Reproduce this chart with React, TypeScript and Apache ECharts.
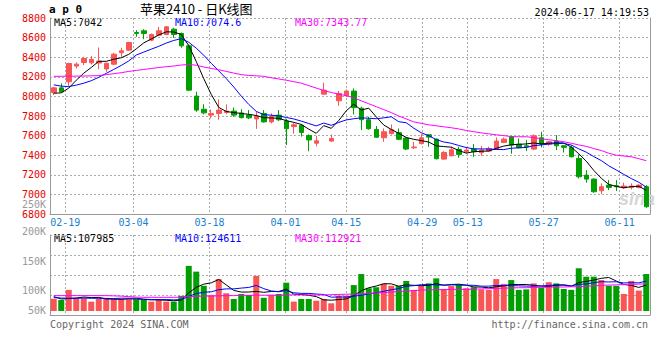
import React, { useEffect, useRef } from 'react';
import * as echarts from 'echarts';

const dates = [
  '2024-02-07','2024-02-08','2024-02-19','2024-02-20','2024-02-21','2024-02-22','2024-02-23','2024-02-26','2024-02-27','2024-02-28','2024-02-29',
  '2024-03-04','2024-03-05','2024-03-06','2024-03-07','2024-03-08','2024-03-11','2024-03-12','2024-03-13','2024-03-14','2024-03-15',
  '2024-03-18','2024-03-19','2024-03-20','2024-03-21','2024-03-22','2024-03-25','2024-03-26','2024-03-27','2024-03-28','2024-03-29',
  '2024-04-01','2024-04-02','2024-04-03','2024-04-08','2024-04-09','2024-04-10','2024-04-11','2024-04-12',
  '2024-04-15','2024-04-16','2024-04-17','2024-04-18','2024-04-19','2024-04-22','2024-04-23','2024-04-24','2024-04-25','2024-04-26',
  '2024-04-29','2024-04-30','2024-05-07','2024-05-08','2024-05-09','2024-05-10',
  '2024-05-13','2024-05-14','2024-05-15','2024-05-16','2024-05-17','2024-05-20','2024-05-21','2024-05-22','2024-05-23','2024-05-24',
  '2024-05-27','2024-05-28','2024-05-29','2024-05-30','2024-05-31','2024-06-03','2024-06-04','2024-06-05','2024-06-06','2024-06-07',
  '2024-06-11','2024-06-12','2024-06-13','2024-06-14','2024-06-17'
];

const tickDates = ['02-19', '03-04', '03-18', '04-01', '04-15', '04-29', '05-13', '05-27', '06-11'];

const opens = [
  8040, 8087, 8149, 8309, 8346, 8343, 8340, 8280, 8329, 8445,
  8472, 8652, 8669, 8574, 8625, 8632, 8686, 8642, 8516, 8003,
  7869, 7809, 7826, 7836, 7850, 7831, 7809, 7770, 7826, 7740,
  7809, 7748, 7692, 7705, 7600, 7522, 8023, 7544, 7955, 8006,
  8054, 7880, 7762, 7663, 7578, 7620, 7630, 7575, 7476, 7518,
  7608, 7563, 7360, 7394, 7459, 7435, 7462, 7425, 7442, 7459,
  7530, 7588, 7513, 7496, 7462, 7578, 7513, 7544, 7496, 7479,
  7367, 7197, 7156, 7037, 7095, 7088, 7068, 7071, 7071, 7078
];
const closes = [
  8087, 8047, 8336, 8329, 8387, 8377, 8360, 8338, 8431, 8465,
  8550, 8642, 8642, 8632, 8669, 8710, 8632, 8516, 8064, 7860,
  7832, 7826, 7860, 7850, 7809, 7783, 7781, 7800, 7740, 7795,
  7762, 7670, 7710, 7632, 7556, 7547, 8064, 7571, 8030, 8054,
  7885, 7762, 7670, 7583, 7639, 7660, 7562, 7463, 7484, 7578,
  7585, 7364, 7428, 7455, 7408, 7452, 7435, 7452, 7469, 7544,
  7564, 7503, 7476, 7486, 7598, 7513, 7537, 7496, 7480, 7384,
  7180, 7156, 7027, 7078, 7071, 7078, 7085, 7085, 7095, 6874
];
const lows = [
  8013, 8040, 8108, 8285, 8319, 8326, 8278, 8251, 8319, 8404,
  8465, 8608, 8584, 8564, 8618, 8625, 8598, 8496, 8054, 7843,
  7818, 7775, 7762, 7819, 7792, 7775, 7768, 7668, 7732, 7724,
  7748, 7505, 7620, 7590, 7440, 7490, 8018, 7537, 7904, 7999,
  7816, 7656, 7660, 7578, 7537, 7612, 7554, 7452, 7463, 7510,
  7486, 7357, 7355, 7390, 7374, 7420, 7384, 7394, 7432, 7455,
  7523, 7415, 7469, 7442, 7452, 7479, 7496, 7452, 7428, 7377,
  7163, 7119, 7017, 7003, 7044, 7034, 7054, 7051, 7061, 6864
];
const highs = [
  8098, 8132, 8343, 8346, 8404, 8411, 8499, 8345, 8445, 8496,
  8557, 8676, 8686, 8642, 8710, 8717, 8700, 8652, 8530, 8047,
  7920, 7867, 7969, 7918, 7887, 7870, 7860, 7840, 7860, 7826,
  7860, 7770, 7730, 7720, 7612, 7598, 8139, 7612, 8057, 8071,
  8081, 7894, 7792, 7697, 7673, 7714, 7673, 7588, 7537, 7615,
  7615, 7571, 7442, 7486, 7486, 7486, 7513, 7493, 7486, 7581,
  7581, 7598, 7571, 7554, 7612, 7639, 7544, 7605, 7503, 7503,
  7408, 7248, 7163, 7112, 7146, 7146, 7119, 7112, 7102, 7095
];

const ma5 = [
  8032, 8036, 8085, 8165, 8237, 8295, 8358, 8358, 8379, 8394,
  8429, 8485, 8546, 8586, 8627, 8659, 8657, 8632, 8518, 8356,
  8181, 8020, 7888, 7846, 7835, 7826, 7817, 7805, 7783, 7780,
  7776, 7753, 7735, 7714, 7666, 7623, 7702, 7674, 7754, 7853,
  7921, 7860, 7880, 7791, 7708, 7663, 7623, 7581, 7562, 7549,
  7534, 7495, 7488, 7482, 7448, 7421, 7436, 7440, 7443, 7470,
  7493, 7506, 7511, 7515, 7525, 7515, 7522, 7526, 7525, 7482,
  7415, 7339, 7245, 7165, 7102, 7082, 7068, 7079, 7083, 7042
];
const ma10 = [
  8118, 8105, 8100, 8115, 8135, 8160, 8195, 8235, 8275, 8316,
  8362, 8422, 8452, 8482, 8511, 8544, 8571, 8589, 8552, 8492,
  8420, 8338, 8260, 8182, 8096, 8003, 7918, 7847, 7814, 7808,
  7801, 7785, 7770, 7748, 7723, 7699, 7728, 7705, 7734, 7760,
  7772, 7781, 7777, 7772, 7781, 7792, 7742, 7731, 7676, 7629,
  7599, 7559, 7535, 7522, 7499, 7478, 7465, 7464, 7463, 7459,
  7457, 7471, 7476, 7479, 7498, 7504, 7514, 7519, 7520, 7504,
  7465, 7431, 7386, 7345, 7292, 7249, 7204, 7162, 7124, 7074.6
];
const ma30 = [
  8205, 8205, 8206, 8207, 8208, 8210, 8212, 8222, 8232, 8242,
  8255, 8265, 8275, 8285, 8295, 8303, 8310, 8320, 8326, 8318,
  8300, 8285, 8272, 8255, 8238, 8222, 8214, 8210, 8205, 8190,
  8178, 8165, 8150, 8135, 8110, 8085, 8060, 8040, 8022, 8008,
  7985, 7955, 7925, 7895, 7865, 7835, 7800, 7770, 7740, 7725,
  7710, 7700, 7690, 7680, 7668, 7652, 7640, 7628, 7618, 7608,
  7600, 7590, 7588, 7588, 7580, 7568, 7558, 7548, 7537, 7522,
  7505, 7490, 7468, 7448, 7420, 7400, 7392, 7384, 7365, 7343.77
];

const volumes = [
  51000, 46000, 88000, 53000, 53000, 39000, 51000, 55000, 49000, 49000,
  49000, 49000, 46000, 39000, 50000, 39000, 39000, 63000, 188000, 164000,
  105000, 67000, 133000, 74000, 50000, 71000, 67000, 146000, 55000, 67000,
  71000, 118000, 39000, 50000, 50000, 43000, 50000, 32000, 64000, 64000,
  108000, 154000, 95000, 99000, 113000, 105000, 104000, 125000, 88000, 105000,
  115000, 136000, 92000, 104000, 111000, 95000, 99000, 90000, 88000, 133000,
  113000, 129000, 88000, 90000, 115000, 97000, 120000, 115000, 92000, 88000,
  178000, 143000, 143000, 129000, 105000, 105000, 71000, 125000, 85000, 154000
];
const volMa5 = [
  60000, 50000, 52000, 54000, 58200, 55800, 56800, 50200, 49400, 48600,
  50600, 50200, 48400, 46400, 46600, 44600, 42600, 46000, 75800, 98600,
  111800, 117400, 131400, 108600, 85800, 79000, 79000, 81600, 77800, 81200,
  81200, 91400, 70000, 69000, 65600, 60000, 46400, 45000, 47800, 50600,
  63600, 84400, 97000, 104000, 113800, 113200, 103200, 109200, 107000, 105400,
  107400, 113800, 107200, 110400, 111600, 107600, 100200, 99800, 96600, 101000,
  104600, 110600, 110200, 110600, 107000, 103800, 102000, 107400, 107800, 102400,
  118600, 123200, 128800, 136200, 139600, 125000, 110600, 107000, 98200, 107985
];
const volMa10 = [
  56000, 54000, 53000, 53000, 54000, 53000, 53000, 52000, 52000, 53400,
  53200, 53500, 49300, 47900, 47600, 47600, 46400, 47200, 61100, 72600,
  78200, 80000, 88700, 92200, 92200, 95400, 98200, 106500, 93200, 83500,
  80100, 85200, 75800, 73400, 73400, 70600, 68900, 57500, 58400, 58100,
  61800, 65400, 71000, 75900, 82200, 88400, 93800, 103100, 105500, 109600,
  110300, 108500, 108200, 108700, 108500, 107500, 107000, 103500, 103500, 106300,
  106100, 105400, 105000, 103600, 104000, 104200, 106300, 108800, 109200, 104700,
  111200, 112600, 118100, 122000, 121000, 121800, 116900, 117900, 117200, 124611
];
const volMa30 = [
  64000, 64000, 64000, 64000, 64000, 64000, 64000, 64000, 63000, 62000,
  60000, 58000, 57000, 57000, 57000, 57000, 57000, 58000, 60000, 61000,
  62000, 62000, 63000, 64000, 64000, 65000, 65000, 66000, 66000, 66000,
  66000, 67000, 67000, 67000, 67000, 67000, 67000, 68000, 69000, 70000,
  70000, 71000, 73000, 75000, 77000, 79000, 81000, 83000, 85000, 87000,
  88000, 89000, 89000, 90000, 90000, 90000, 91000, 92000, 93000, 94000,
  95000, 96000, 97000, 97000, 98000, 99000, 99000, 100000, 100000, 101000,
  101000, 103000, 105000, 107000, 108000, 109000, 110000, 111000, 112000, 112921
];

const volTickLabels = ['250K', '200K', '150K', '100K', '50K'];
const priceLegend = ['MA5:7042', 'MA10:7074.6', 'MA30:7343.77'];
const volLegend = ['MA5:107985', 'MA10:124611', 'MA30:112921'];
const titleText = '苹果2410 - 日K线图';
const codeText = 'a p 0';
const timeText = '2024-06-17 14:19:53';
const copyrightText = 'Copyright 2024 SINA.COM';
const siteText = 'http://finance.sina.com.cn';

export default function App() {
  const ref = useRef<HTMLDivElement>(null);

  useEffect(() => {
    if (!ref.current) return;
    const chart = echarts.init(ref.current, null, { renderer: 'svg' });
    const RED = '#fa5555';
    const GREEN = '#009e00';
    const MONO = 'DejaVu Sans Mono';
    const GRID_COLOR = '#aaaaaa';
    const BORDER = '#999999';
    const maColors = ['#000000', '#0000ff', '#ff00ff'];
    const isTick = (_i: number, v: string) => tickDates.includes(String(v).slice(5));
    const dotted = { color: GRID_COLOR, width: 1, type: [2, 2] as any };

    const candles = dates.map((_, i) => [opens[i], closes[i], lows[i], highs[i]]);
    const volData = volumes.map((v, i) => ({
      value: v,
      itemStyle: { color: closes[i] >= opens[i] ? RED : GREEN },
    }));

    const txt = (text: string, x: number, y: number, fill: string, extra: any = {}) => ({
      type: 'text',
      x,
      y,
      silent: true,
      style: {
        text,
        fill,
        fontFamily: MONO,
        fontSize: 10,
        textVerticalAlign: 'middle',
        verticalAlign: 'middle',
        ...extra,
      },
    });

    const legendX = [54, 175, 295];
    const volLabelY = [204, 231, 261, 290, 310];

    const lineSeries = (name: string, data: number[], color: string, xi: number, yi: number) => ({
      name,
      type: 'line',
      data,
      xAxisIndex: xi,
      yAxisIndex: yi,
      showSymbol: false,
      symbol: 'none',
      silent: true,
      lineStyle: { color, width: 1 },
      z: 5,
    });

    const hiddenCat = (gridIndex: number) => ({
      type: 'category',
      gridIndex,
      position: 'bottom',
      data: dates,
      boundaryGap: true,
      axisLine: { show: true, onZero: false, lineStyle: { color: BORDER, width: 1 } },
      axisTick: { show: false },
      axisLabel: { show: false },
      splitLine: { show: false },
    });

    const option: any = {
      animation: false,
      backgroundColor: '#ffffff',
      title: {
        text: titleText,
        left: 140,
        top: 2,
        padding: 0,
        textStyle: { fontFamily: 'Noto Sans CJK SC', fontSize: 13, fontWeight: 'normal', color: '#000' },
      },
      grid: [
        { left: 50, top: 18, width: 600, height: 196, show: false },
        { left: 50, top: 235, width: 600, height: 80, show: false },
      ],
      xAxis: [
        hiddenCat(0),
        {
          type: 'category',
          gridIndex: 0,
          position: 'bottom',
          data: dates,
          boundaryGap: false,
          axisLine: { show: false, onZero: false },
          axisTick: { show: false, interval: isTick },
          axisLabel: {
            interval: isTick,
            formatter: (v: string) => v.slice(5),
            color: '#1b7fd1',
            fontFamily: MONO,
            fontSize: 10,
            margin: 3,
          },
          splitLine: { show: true, interval: isTick, lineStyle: dotted },
        },
        hiddenCat(1),
        {
          type: 'category',
          gridIndex: 1,
          position: 'bottom',
          data: dates,
          boundaryGap: false,
          axisLine: { show: false, onZero: false },
          axisTick: { show: false, interval: isTick },
          axisLabel: { show: false, interval: isTick },
          splitLine: { show: true, interval: isTick, lineStyle: dotted },
        },
      ],
      yAxis: [
        {
          type: 'value',
          gridIndex: 0,
          position: 'left',
          min: 6800,
          max: 8800,
          interval: 200,
          axisLine: { show: true, onZero: false, lineStyle: { color: BORDER, width: 1 } },
          axisTick: { show: false },
          axisLabel: {
            color: '#e60000',
            fontFamily: MONO,
            fontSize: 10,
            margin: 4,
            lineHeight: 10,
            padding: [0, 0, 3, 0],
            formatter: (v: number) => String(v),
          },
          splitLine: { show: true, lineStyle: dotted },
        },
        {
          type: 'value',
          gridIndex: 0,
          position: 'right',
          min: 0,
          max: 1,
          axisLine: { show: true, onZero: false, lineStyle: { color: BORDER, width: 1 } },
          axisTick: { show: false },
          axisLabel: { show: false },
          splitLine: { show: false },
        },
        {
          type: 'value',
          gridIndex: 1,
          position: 'left',
          min: -16667,
          max: 316667,
          axisLine: { show: true, onZero: false, lineStyle: { color: BORDER, width: 1 } },
          axisTick: { show: false },
          axisLabel: { show: false },
          splitLine: { show: false },
        },
        {
          type: 'value',
          gridIndex: 1,
          position: 'left',
          min: 0,
          max: 4,
          interval: 1,
          axisLine: { show: false },
          axisTick: { show: false },
          axisLabel: { show: false },
          splitLine: { show: true, lineStyle: dotted },
        },
        {
          type: 'value',
          gridIndex: 1,
          position: 'right',
          min: 0,
          max: 1,
          axisLine: { show: true, onZero: false, lineStyle: { color: BORDER, width: 1 } },
          axisTick: { show: false },
          axisLabel: { show: false },
          splitLine: { show: false },
        },
      ],
      series: [
        {
          name: 'K',
          type: 'candlestick',
          xAxisIndex: 0,
          yAxisIndex: 0,
          data: candles,
          barWidth: 5,
          silent: true,
          itemStyle: {
            color: RED,
            color0: GREEN,
            borderColor: RED,
            borderColor0: GREEN,
            borderWidth: 1,
          },
          z: 3,
        },
        lineSeries('MA5', ma5, maColors[0], 0, 0),
        lineSeries('MA10', ma10, maColors[1], 0, 0),
        lineSeries('MA30', ma30, maColors[2], 0, 0),
        {
          name: 'VOL',
          type: 'bar',
          xAxisIndex: 2,
          yAxisIndex: 2,
          data: volData,
          barWidth: 6,
          silent: true,
          z: 3,
        },
        lineSeries('VMA5', volMa5, maColors[0], 2, 2),
        lineSeries('VMA10', volMa10, maColors[1], 2, 2),
        lineSeries('VMA30', volMa30, maColors[2], 2, 2),
      ],
      graphic: [
        txt(codeText, 49, 9.5, '#000', { fontSize: 11, fontWeight: 'bold' }),
        txt(timeText, 649, 12, '#000', { textAlign: 'right' }),
        ...priceLegend.map((t, i) => txt(t, legendX[i], 22.5, maColors[i])),
        ...volLegend.map((t, i) => txt(t, legendX[i], 238.5, maColors[i])),
        ...volTickLabels.map((t, i) => txt(t, 46, volLabelY[i], '#999', { textAlign: 'right' })),
        txt(copyrightText, 50, 324, '#666'),
        txt(siteText, 648, 324, '#666', { textAlign: 'right' }),
        {
          type: 'text',
          x: 619,
          y: 199,
          silent: true,
          z: 1,
          style: {
            text: 'sina',
            fill: '#d6d6d6',
            fontFamily: 'Liberation Sans',
            fontSize: 18,
            fontWeight: 'bold',
            fontStyle: 'italic',
            textVerticalAlign: 'middle',
            verticalAlign: 'middle',
          },
        },
      ],
    };

    chart.setOption(option);
    return () => chart.dispose();
  }, []);

  return (
    <div
      ref={ref}
      style={{ position: 'fixed', left: 0, top: 0, width: 660, height: 360, background: '#fff' }}
    />
  );
}
